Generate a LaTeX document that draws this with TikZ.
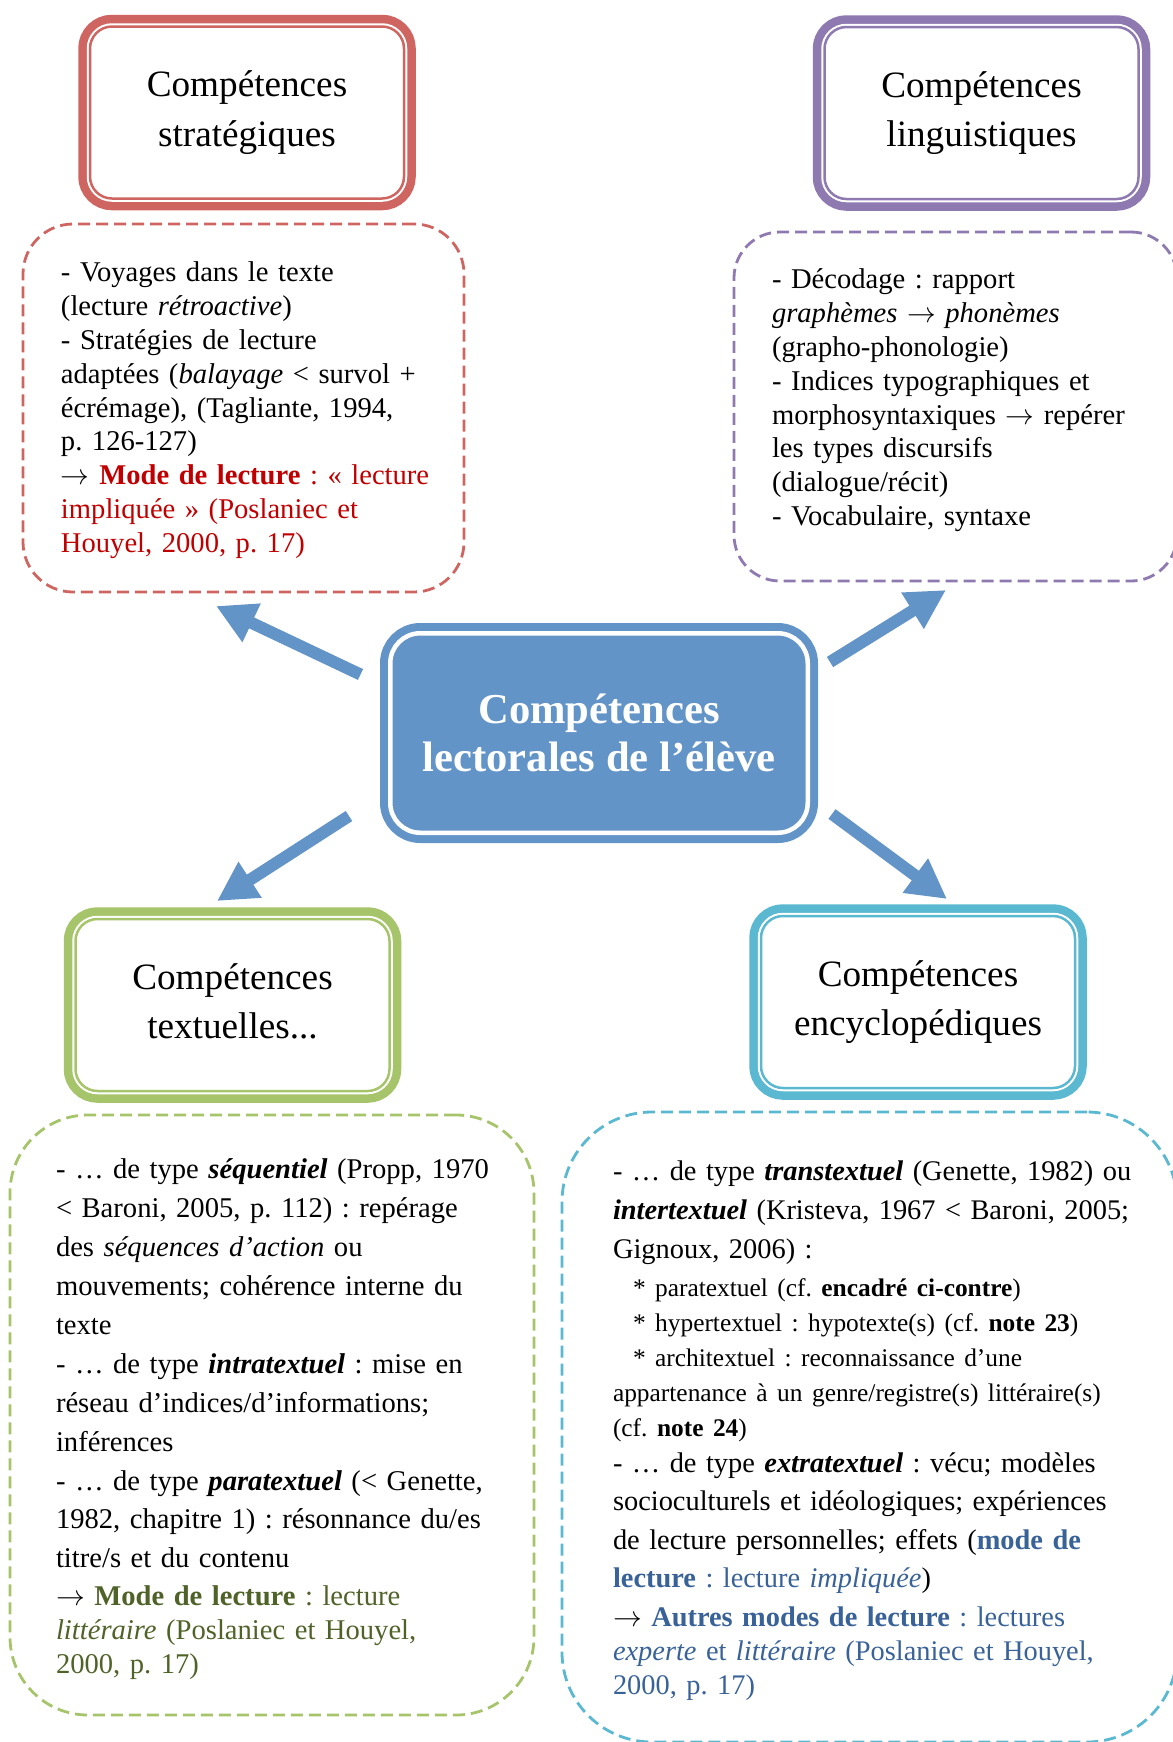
\documentclass[tikz,border=0pt]{standalone}
\usepackage{fontspec}
\setmainfont{Liberation Serif}
\usepackage{xcolor}
\usepackage{tikz}
\usetikzlibrary{arrows.meta, positioning, calc}
\setlength{\parindent}{0pt}
\frenchspacing
\definecolor{stratRed}{RGB}{206, 101, 96}
\definecolor{lingPurple}{RGB}{142, 121, 177}
\definecolor{textGreen}{RGB}{166, 196, 105}
\definecolor{encyCyan}{RGB}{90, 184, 208}
\definecolor{mainBlue}{RGB}{99, 148, 200}
\definecolor{modeRed}{RGB}{192, 0, 0}
\definecolor{modeGreen}{RGB}{79, 98, 40}
\definecolor{modeBlue}{RGB}{56, 98, 152}
\newcommand{\toarrow}{$\rightarrow$}
\tikzset{
  compbox/.style={
    rectangle, rounded corners=11pt,
    minimum width=157pt, minimum height=86pt,
    inner sep=0pt, outer sep=0pt,
    preaction={draw=#1, line width=11.75pt},
    fill=white, draw=white, line width=3.25pt,
    postaction={draw=#1, line width=1.25pt},
    align=center, font=\fontsize{18.6}{24.6}\selectfont
  },
  mainbox/.style={
    rectangle, rounded corners=15pt,
    minimum width=208.75pt, minimum height=99.75pt,
    inner sep=0pt, outer sep=0pt,
    preaction={draw=mainBlue, line width=10.25pt},
    fill=mainBlue, draw=white, line width=2.25pt,
    align=center, text=white,
    font=\bfseries\fontsize{21.3}{24.3}\selectfont
  },
  notebox/.style={
    rectangle, draw=#1,
    dash pattern=on 6pt off 3pt, line width=1.4pt,
    inner sep=0pt, outer sep=0pt
  },
  notetext/.style={
    anchor=north west, inner sep=0pt, outer sep=0pt,
    text width=290pt, align=left,
    font=\fontsize{14.3}{16.9}\selectfont
  },
  bigarrow/.style={
    -{Triangle[length=19.7pt, width=20pt]},
    line width=6pt, draw=mainBlue
  }
}
\begin{document}
\begin{tikzpicture}[x=0.5pt, y=-0.5pt]
\path[use as bounding box, clip] (0,0) rectangle (1173,1742);

% --- centre ---
\node[mainbox] (centre) at (599,733) {Compétences\\lectorales de l’élève};

% --- title boxes ---
\node[compbox=stratRed] (strat) at (247,112.5) {Compétences\\stratégiques};
\node[compbox=lingPurple] (ling) at (981.5,113) {Compétences\\linguistiques};
\node[compbox=textGreen] (textu) at (232.5,1005) {Compétences\\textuelles...\vphantom{q}};
\node[compbox=encyCyan] (ency) at (918,1002) {Compétences\\encyclopédiques};

% --- dashed note frames ---
\node[notebox=stratRed, rounded corners=25pt, minimum width=220.5pt, minimum height=184pt] (stratnotes) at (243.5,408) {};
\node[notebox=lingPurple, rounded corners=23pt, minimum width=221.5pt, minimum height=174.5pt] (lingnotes) at (955.5,406.5) {};
\node[notebox=textGreen, rounded corners=39pt, minimum width=262pt, minimum height=300pt] (textnotes) at (272,1415) {};
\node[notebox=encyCyan, rounded corners=45pt, minimum width=307.5pt, minimum height=315pt] (encynotes) at (869.5,1427) {};

% --- note texts ---
\node[notetext] (strattext) at ($(stratnotes.north west)+(38,38)$) {%
- Voyages dans le texte\\
(lecture \textit{rétroactive})\\
- Stratégies de lecture\\
adaptées (\textit{balayage} < survol +\\
écrémage), (Tagliante, 1994,\\
p. 126-127)\\
\toarrow{} {\color{modeRed}\textbf{Mode de lecture} : « lecture\\
impliquée » (Poslaniec et\\
Houyel, 2000, p. 17)}};

\node[notetext] (lingtext) at ($(lingnotes.north west)+(38,37)$) {%
- Décodage : rapport\\
\textit{graphèmes} \toarrow{} \textit{phonèmes}\\
(grapho-phonologie)\\
- Indices typographiques et\\
morphosyntaxiques \toarrow{} repérer\\
les types discursifs\\
(dialogue/récit)\\
- Vocabulaire, syntaxe};

\node[notetext, font=\fontsize{14.3}{19.45}\selectfont] (textutext) at ($(textnotes.north west)+(46,44)$) {%
- … de type \textbf{\textit{séquentiel}} (Propp, 1970\\
< Baroni, 2005, p. 112) : repérage\\
des \textit{séquences d’action} ou\\
mouvements; cohérence interne du\\
texte\\
- … de type \textbf{\textit{intratextuel}} : mise en\\
réseau d’indices/d’informations;\\
inférences\\
- … de type \textbf{\textit{paratextuel}} (< Genette,\\
1982, chapitre 1) : résonnance du/es\\
titre/s et du contenu\par
\vspace{2pt}
{\fontsize{14.3}{17}\selectfont
\toarrow{} {\color{modeGreen}\textbf{Mode de lecture} : lecture\\
\textit{littéraire} (Poslaniec et Houyel,\\
2000, p. 17)}\par}};

\node[notetext, font=\fontsize{14.2}{19.4}\selectfont] (encytext) at ($(encynotes.north west)+(51,49)$) {%
- … de type \textbf{\textit{transtextuel}} (Genette, 1982) ou\\
\textbf{\textit{intertextuel}} (Kristeva, 1967 < Baroni, 2005;\\
Gignoux, 2006) :\par
\vspace{1.5pt}
{\fontsize{12.7}{17.5}\selectfont
\hspace*{10pt}* paratextuel (cf. \textbf{encadré ci-contre})\\
\hspace*{10pt}* hypertextuel : hypotexte(s) (cf. \textbf{note 23})\\
\hspace*{10pt}* architextuel : reconnaissance d’une\\
appartenance à un genre/registre(s) littéraire(s)\\
(cf. \textbf{note 24})\par}
\vspace{-1.25pt}
{\fontsize{14.2}{19.25}\selectfont
- … de type \textbf{\textit{extratextuel}} : vécu; modèles\\
socioculturels et idéologiques; expériences\\
de lecture personnelles; effets ({\color{modeBlue}\textbf{mode de}\\
\textbf{lecture} : lecture \textit{impliquée}})\\
\toarrow{} {\color{modeBlue}\textbf{Autres modes de lecture} : lectures}\par}
{\fontsize{14.2}{17}\selectfont\color{modeBlue}
\textit{experte} et \textit{littéraire} (Poslaniec et Houyel,\\
2000, p. 17)\par}};

% --- arrows ---
\draw[bigarrow] ($(centre.north west)+(-29.75,41.25)$) -- ($(stratnotes.south west)+(193,14)$);
\draw[bigarrow] ($(centre.north east)+(22.25,28.75)$) -- ($(lingnotes.south west)+(212,9)$);
\draw[bigarrow] ($(centre.south west)+(-41.25,-16.75)$) -- ($(textu.north west)+(141.5,-18)$);
\draw[bigarrow] ($(centre.south east)+(24.25,-18.75)$) -- ($(ency.north west)+(186,-17)$);

\end{tikzpicture}
\end{document}
